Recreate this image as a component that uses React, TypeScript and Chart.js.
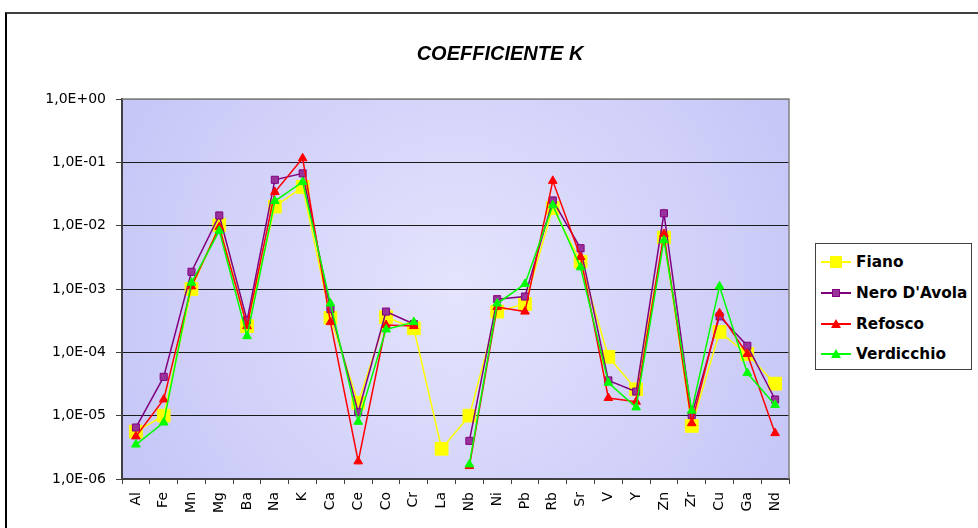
import React, { useEffect, useRef } from "react";
import { Chart, registerables } from "chart.js";

Chart.register(...registerables);

const categories = ["Al", "Fe", "Mn", "Mg", "Ba", "Na", "K", "Ca", "Ce", "Co", "Cr", "La", "Nb", "Ni", "Pb", "Rb", "Sr", "V", "Y", "Zn", "Zr", "Cu", "Ga", "Nd"];

const fiano = [5.6e-6, 1.0e-5, 1.0e-3, 1.02e-2, 2.6e-4, 2.0e-2, 4.1e-2, 3.5e-4, 1.6e-5, 3.6e-4, 2.4e-4, 3.0e-6, 1.0e-5, 4.4e-4, 5.8e-4, 1.9e-2, 2.7e-3, 8.5e-5, 2.6e-5, 6.5e-3, 6.9e-6, 2.1e-4, 9.4e-5, 3.2e-5];
const neroDAvola = [6.5e-6, 4.1e-5, 1.87e-3, 1.45e-2, 3.2e-4, 5.3e-2, 6.7e-2, 4.8e-4, 1.13e-5, 4.4e-4, 2.8e-4, null, 4.0e-6, 6.9e-4, 7.6e-4, 2.5e-2, 4.4e-3, 3.6e-5, 2.4e-5, 1.57e-2, 1.02e-5, 3.7e-4, 1.27e-4, 1.8e-5];
const refosco = [4.7e-6, 1.8e-5, 1.1e-3, 9.5e-3, 2.6e-4, 3.4e-2, 1.16e-1, 3.0e-4, 1.9e-6, 2.7e-4, 2.6e-4, null, 1.6e-6, 5.2e-4, 4.4e-4, 5.1e-2, 3.2e-3, 1.9e-5, 1.66e-5, 7.4e-3, 7.6e-6, 4.15e-4, 9.4e-5, 5.3e-6];
const verdicchio = [3.5e-6, 7.8e-6, 1.26e-3, 8.3e-3, 1.8e-4, 2.45e-2, 4.9e-2, 5.9e-4, 8.0e-6, 2.3e-4, 3.0e-4, null, 1.7e-6, 5.9e-4, 1.2e-3, 2.1e-2, 2.2e-3, 3.3e-5, 1.35e-5, 5.9e-3, 1.2e-5, 1.1e-3, 4.7e-5, 1.48e-5];

const yTicks = [1e-6, 1e-5, 1e-4, 1e-3, 1e-2, 1e-1, 1];

const title = "COEFFICIENTE K";

const fmt = (v: number) => {
  const e = Math.round(Math.log10(v));
  return "1,0E" + (e < 0 ? "-" : "+") + String(Math.abs(e)).padStart(2, "0");
};

const bgPlugin = {
  id: "plotBg",
  beforeDraw(chart: any) {
    const { ctx, chartArea: a } = chart;
    ctx.save();
    const cx = (a.left + a.right) / 2;
    const cy = (a.top + a.bottom) / 2;
    const g = ctx.createRadialGradient(cx, cy, 0, cx, cy, Math.max(a.right - a.left, a.bottom - a.top) * 0.6);
    g.addColorStop(0, "#E4E4FD");
    g.addColorStop(1, "#C4C4F7");
    ctx.fillStyle = g;
    ctx.fillRect(a.left, a.top, a.right - a.left, a.bottom - a.top);
    ctx.restore();
  },
  beforeDatasetsDraw(chart: any) {
    const { ctx, chartArea: a } = chart;
    ctx.save();
    ctx.strokeStyle = "#808080";
    ctx.lineWidth = 1.5;
    ctx.beginPath();
    ctx.moveTo(a.left, a.top);
    ctx.lineTo(a.right, a.top);
    ctx.lineTo(a.right, a.bottom);
    ctx.stroke();
    ctx.restore();
  },
};

const series = [
  { label: "Fiano", data: fiano, color: "#FFFF00", fill: "#FFFF00", style: "rect", radius: 9, order: 4 },
  { label: "Nero D'Avola", data: neroDAvola, color: "#800080", fill: "#993399", style: "rect", radius: 5, order: 3 },
  { label: "Refosco", data: refosco, color: "#FF0000", fill: "#FF0000", style: "triangle", radius: 5, order: 2 },
  { label: "Verdicchio", data: verdicchio, color: "#00FF00", fill: "#00FF00", style: "triangle", radius: 5, order: 1 },
];

function LegendMarker({ s }: { s: any }) {
  return (
    <svg width="30" height="14" style={{ display: "block" }}>
      <line x1="0" y1="7" x2="30" y2="7" stroke={s.color} strokeWidth="2" />
      {s.style === "rect" ? (
        s.radius > 6 ? (
          <rect x="9" y="1" width="12" height="12" fill={s.fill} />
        ) : (
          <rect x="11.5" y="3.5" width="7" height="7" fill={s.fill} stroke={s.color} strokeWidth="1" />
        )
      ) : (
        <polygon points="15,2 20,11 10,11" fill={s.fill} />
      )}
    </svg>
  );
}

export default function App() {
  const ref = useRef<HTMLCanvasElement>(null);

  useEffect(() => {
    const chart = new Chart(ref.current!, {
      type: "line",
      data: {
        labels: categories,
        datasets: series.map((s) => ({
          label: s.label,
          data: s.data,
          borderColor: s.color,
          backgroundColor: s.fill,
          pointBackgroundColor: s.fill,
          pointBorderColor: s.style === "rect" && s.radius < 6 ? s.color : s.fill,
          pointBorderWidth: 1,
          pointStyle: s.style as any,
          pointRadius: s.radius,
          borderWidth: 1.5,
          tension: 0,
          spanGaps: false,
          order: s.order,
        })),
      },
      options: {
        animation: false,
        responsive: false,
        maintainAspectRatio: false,
        layout: { padding: { left: 0, right: 189, top: 99, bottom: 0 } },
        plugins: { legend: { display: false }, tooltip: { enabled: false }, title: { display: false } },
        scales: {
          x: {
            type: "category",
            offset: true,
            afterFit: (s: any) => {
              s.height = 49;
            },
            grid: { display: true, drawOnChartArea: false, offset: true, tickLength: 5, color: "#404040", lineWidth: 1 },
            border: { display: true, color: "#404040", width: 2 },
            ticks: {
              minRotation: 90,
              maxRotation: 90,
              autoSkip: false,
              padding: 8,
              color: "#000",
              font: { family: "DejaVu Sans", size: 14 },
            },
          },
          y: {
            type: "logarithmic",
            min: 1e-6,
            max: 1,
            afterFit: (s: any) => {
              s.width = 122;
            },
            afterBuildTicks: (s: any) => {
              s.ticks = yTicks.map((v) => ({ value: v }));
            },
            grid: {
              color: (c: any) => (c.tick && c.tick.value === 1 ? "#808080" : "#1a1a1a"),
              tickColor: "#404040",
              tickLength: 6,
              lineWidth: 1,
            },
            border: { display: true, color: "#404040", width: 2 },
            ticks: {
              padding: 10,
              color: "#000",
              font: { family: "DejaVu Sans", size: 14 },
              callback: (v: any) => fmt(Number(v)),
            },
          },
        },
      },
      plugins: [bgPlugin],
    });
    return () => chart.destroy();
  }, []);

  return (
    <div style={{ position: "fixed", left: 0, top: 0, width: 978, height: 528, overflow: "hidden", background: "#fff" }}>
      <div
        style={{
          position: "absolute",
          left: 5,
          top: 12,
          width: 1100,
          height: 700,
          borderTop: "2px solid #404040",
          borderLeft: "2px solid #000",
        }}
      />
      <canvas ref={ref} width={978} height={528} style={{ position: "absolute", left: 0, top: 0 }} />
      <div
        style={{
          position: "absolute",
          left: 0,
          width: 1000,
          top: 41,
          textAlign: "center",
          fontFamily: "'Liberation Sans', Arial, sans-serif",
          fontWeight: "bold",
          fontStyle: "italic",
          fontSize: 20,
          lineHeight: "24px",
          color: "#000",
        }}
      >
        {title}
      </div>
      <div
        style={{
          position: "absolute",
          left: 815,
          top: 243,
          width: 157,
          height: 127,
          border: "1.5px solid #404040",
          background: "#fff",
          boxSizing: "border-box",
          paddingTop: 3,
        }}
      >
        {series.map((s) => (
          <div key={s.label} style={{ display: "flex", alignItems: "center", height: 30.7, paddingLeft: 5 }}>
            <LegendMarker s={s} />
            <span
              style={{
                marginLeft: 5,
                fontFamily: "'DejaVu Sans', Verdana, sans-serif",
                fontWeight: "bold",
                fontSize: 15.3,
                color: "#000",
                whiteSpace: "nowrap",
              }}
            >
              {s.label}
            </span>
          </div>
        ))}
      </div>
    </div>
  );
}
